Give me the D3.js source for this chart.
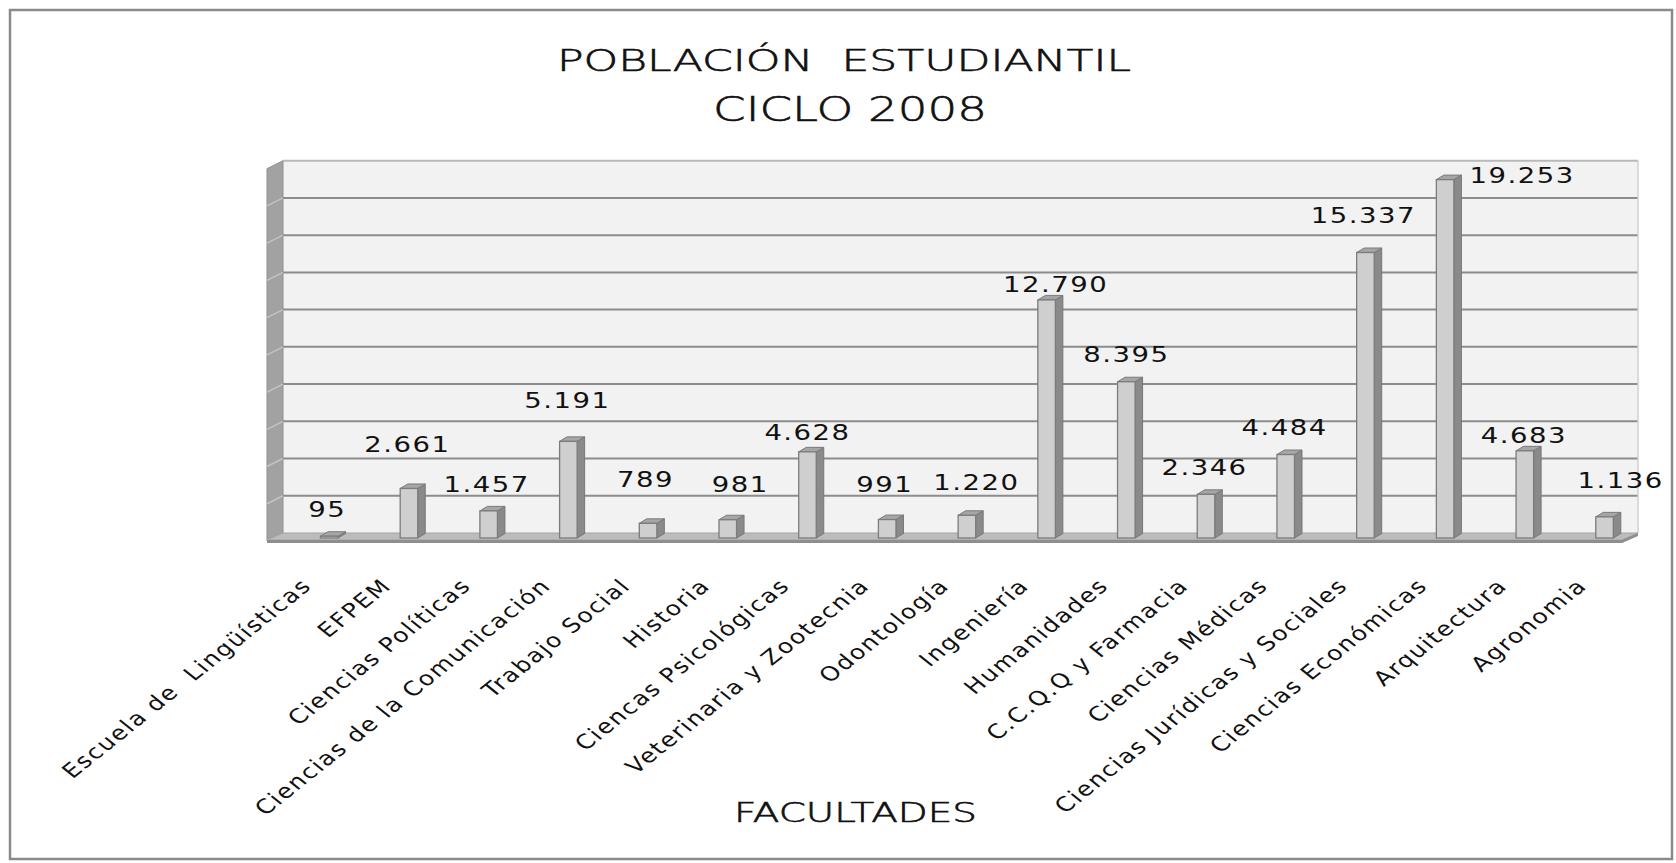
<!DOCTYPE html>
<html>
<head>
<meta charset="utf-8">
<script src="https://cdn.jsdelivr.net/npm/d3@7"></script>
<style>
  html, body { margin: 0; padding: 0; background: #ffffff; }
  svg { display: block; }
  text { font-family: "DejaVu Sans", "Liberation Sans", sans-serif; fill: #111; }
  .heading { font-weight: 200; stroke: #111; stroke-width: 0.6; }
</style>
</head>
<body>
<svg id="chart" width="1676" height="863"></svg>
<script>
// Facultades y población estudiantil, ciclo 2008
const categories = [
  "Escuela de  Lingüísticas", "EFPEM", "Ciencias Políticas", "Ciencias de la Comunicación",
  "Trabajo Social", "Historia", "Ciencas Psicológicas", "Veterinaria y Zootecnia",
  "Odontología", "Ingeniería", "Humanidades", "C.C.Q.Q y Farmacia", "Ciencias Médicas",
  "Ciencias Jurídicas y Sociales", "Ciencias Económicas", "Arquitectura", "Agronomia"
];
const students = [95, 2661, 1457, 5191, 789, 981, 4628, 991, 1220, 12790, 8395, 2346, 4484, 15337, 19253, 4683, 1136];
const axisMax = 20000;
const titleLines = ["POBLACIÓN  ESTUDIANTIL", "CICLO 2008"];
const axisTitle = "FACULTADES";

// per-label nudges [dx, gap above the column top]
const labelPlacement = [
  [-2, 19], [-1.5, 36.5], [-2, 19], [-1, 33.5], [-2.5, 36], [12.5, 27.5], [0, 12],
  [-2.5, 27.5], [9.5, 25.5], [9, 8], [0, 19.5], [-1.5, 19.5], [-1, 19.5], [-2, 29.5],
  [77, -3.5], [-1, 8], [16, 29]
];

const svg = d3.select("#chart");
const fmt = d3.formatLocale({decimal: ",", thousands: ".", grouping: [3], currency: ["", ""]}).format(",d");

// 3D frame geometry
const frontLeft = 267, frontRight = 1622;
const wallDx = 16, wallDy = -8;       // depth of the floor / back wall
const floorFrontY = 541;
const baseY = 538;                    // column base on its own depth plane
const colDx = 7.5, colDy = -4.5;      // column depth

const x = d3.scaleBand().domain(categories).range([frontLeft, frontRight]).paddingInner(0).paddingOuter(0);
const y = d3.scaleLinear().domain([0, axisMax]).range([baseY, baseY - 372.3]);
const wallY = v => y(v) - 5;

const bw = x.bandwidth();
const colOffset = bw * 0.671;
const colW = bw * 0.22;

// outer frame
svg.append("rect").attr("x", 10).attr("y", 10).attr("width", 1662).attr("height", 849)
  .attr("fill", "none").attr("stroke", "#8a8a8a").attr("stroke-width", 2.5);

// back wall
const backL = frontLeft + wallDx, backR = frontRight + wallDx;
svg.append("rect").attr("x", backL).attr("y", wallY(axisMax)).attr("width", backR - backL)
  .attr("height", wallY(0) - wallY(axisMax)).attr("fill", "#f2f2f2");

// side wall
svg.append("polygon")
  .attr("points", [[frontLeft, wallY(axisMax) - wallDy], [backL, wallY(axisMax)], [backL, wallY(0)], [frontLeft, floorFrontY]].join(" "))
  .attr("fill", "#a2a2a2").attr("stroke", "#8f8f8f").attr("stroke-width", 1);

// gridlines on the back wall and their continuation on the side wall
const ticks = y.ticks(10);
svg.append("g").selectAll("line").data(ticks.filter(t => t > 0)).join("line")
  .attr("x1", backL).attr("x2", backR)
  .attr("y1", d => wallY(d)).attr("y2", d => wallY(d))
  .attr("stroke", d => d === axisMax ? "#b9b9b9" : "#8c8c8c")
  .attr("stroke-width", 2);
svg.append("g").selectAll("line").data(ticks.filter(t => t > 0 && t < axisMax)).join("line")
  .attr("x1", frontLeft).attr("x2", backL)
  .attr("y1", d => wallY(d) - wallDy).attr("y2", d => wallY(d))
  .attr("stroke", "#c4c4c4").attr("stroke-width", 1.5);
svg.append("line").attr("x1", backR).attr("x2", backR).attr("y1", wallY(axisMax)).attr("y2", wallY(0))
  .attr("stroke", "#d0d0d0").attr("stroke-width", 1.5);

// floor
svg.append("polygon")
  .attr("points", [[frontLeft, floorFrontY - 1], [backL, wallY(0)], [backR, wallY(0)], [frontRight, floorFrontY - 1]].join(" "))
  .attr("fill", "#bcbcbc").attr("stroke", "#a5a5a5").attr("stroke-width", 1);
svg.append("polygon")
  .attr("points", [[frontLeft, floorFrontY - 1], [frontRight, floorFrontY - 1], [backR, wallY(0)], [backR, wallY(0) + 3], [frontRight, floorFrontY + 2], [frontLeft, floorFrontY + 2]].join(" "))
  .attr("fill", "#8e8e8e");

// columns
const data = categories.map((c, i) => ({c, v: students[i], i}));
const cols = svg.append("g").selectAll("g").data(data).join("g");
const fx = d => x(d.c) + colOffset;
cols.append("polygon") // side face
  .attr("points", d => [[fx(d) + colW, y(d.v)], [fx(d) + colW + colDx, y(d.v) + colDy], [fx(d) + colW + colDx, y(0) + colDy], [fx(d) + colW, y(0)]].join(" "))
  .attr("fill", "#8a8a8a").attr("stroke", "#777").attr("stroke-width", 1).attr("stroke-linejoin", "round");
cols.append("polygon") // top face
  .attr("points", d => [[fx(d), y(d.v)], [fx(d) + colW, y(d.v)], [fx(d) + colW + colDx, y(d.v) + colDy], [fx(d) + colDx, y(d.v) + colDy]].join(" "))
  .attr("fill", "#a6a6a6").attr("stroke", "#7a7a7a").attr("stroke-width", 1).attr("stroke-linejoin", "round");
cols.append("rect") // front face
  .attr("x", fx).attr("y", d => y(d.v)).attr("width", colW).attr("height", d => y(0) - y(d.v))
  .attr("fill", "#cfcfcf").attr("stroke", "#7c7c7c").attr("stroke-width", 1.3);

// value labels
svg.append("g").selectAll("text").data(data).join("text")
  .attr("transform", d => {
    const p = labelPlacement[d.i];
    return `translate(${fx(d) + colW / 2 + p[0]},${y(d.v) - p[1]}) scale(1.25,1)`;
  })
  .attr("text-anchor", "middle")
  .attr("font-size", 22).attr("letter-spacing", 1.2)
  .text(d => fmt(d.v));

// category labels
svg.append("g").selectAll("text").data(categories).join("text")
  .attr("transform", d => `translate(${x(d) + bw * 0.577},587) scale(1.25,1) rotate(-45)`)
  .attr("text-anchor", "end")
  .attr("font-size", 20).attr("letter-spacing", 1.4)
  .style("white-space", "pre")
  .text(d => d);

// titles
svg.append("text").attr("class", "heading").attr("x", 557).attr("y", 71).attr("font-size", 30)
  .attr("textLength", 574).attr("lengthAdjust", "spacingAndGlyphs").style("white-space", "pre")
  .text(titleLines[0]);
svg.append("text").attr("class", "heading").attr("x", 713).attr("y", 121).attr("font-size", 34)
  .attr("textLength", 274).attr("lengthAdjust", "spacingAndGlyphs")
  .text(titleLines[1]);
svg.append("text").attr("class", "heading").attr("x", 734).attr("y", 822).attr("font-size", 27)
  .attr("textLength", 243).attr("lengthAdjust", "spacingAndGlyphs")
  .text(axisTitle);
</script>
</body>
</html>
